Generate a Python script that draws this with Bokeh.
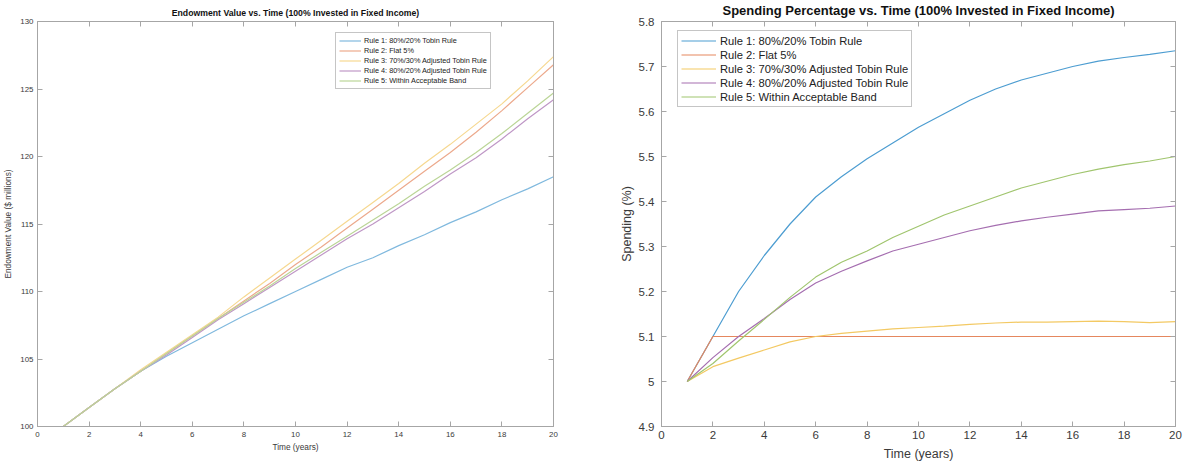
from bokeh.plotting import figure
from bokeh.layouts import row
from bokeh.models import (Range1d, LinearAxis, Legend, LegendItem, FixedTicker,
                          CustomLabelingPolicy)
from bokeh.embed import file_html
from bokeh.resources import INLINE

years = list(range(1, 21))
rule_names = [
    "Rule 1: 80%/20% Tobin Rule",
    "Rule 2: Flat 5%",
    "Rule 3: 70%/30% Adjusted Tobin Rule",
    "Rule 4: 80%/20% Adjusted Tobin Rule",
    "Rule 5: Within Acceptable Band",
]
# MATLAB default colour order, lightened as they appear in the two panels
colors_left = ["#80B9DE", "#ECA98C", "#F6D890", "#BF97C6", "#BBD597"]
colors_right = ["#4D9DD1", "#E5875E", "#F3C963", "#A56EB0", "#A0C56E"]

# Endowment value ($ millions)
endow_rule1 = [100, 101.4, 102.8, 104.1, 105.2, 106.2, 107.2, 108.2, 109.1, 110.0,
               110.9, 111.8, 112.5, 113.4, 114.2, 115.1, 115.9, 116.8, 117.6, 118.5]
endow_rule2 = [100, 101.4, 102.8, 104.1, 105.4, 106.7, 108.0, 109.3, 110.6, 112.0,
               113.3, 114.7, 116.1, 117.5, 118.9, 120.3, 121.8, 123.4, 125.1, 126.8]
endow_rule3 = [100, 101.4, 102.8, 104.2, 105.5, 106.8, 108.1, 109.6, 111.0, 112.4,
               113.8, 115.2, 116.6, 118.0, 119.5, 120.9, 122.4, 123.9, 125.6, 127.4]
endow_rule4 = [100, 101.4, 102.8, 104.1, 105.3, 106.6, 107.9, 109.1, 110.3, 111.5,
               112.7, 113.9, 115.0, 116.2, 117.4, 118.7, 119.9, 121.3, 122.8, 124.2]
endow_rule5 = [100, 101.4, 102.8, 104.1, 105.4, 106.7, 108.0, 109.2, 110.4, 111.7,
               112.9, 114.1, 115.3, 116.5, 117.8, 119.0, 120.3, 121.7, 123.2, 124.7]

# Spending percentage (%)
spend_rule1 = [5.0, 5.1, 5.2, 5.28, 5.35, 5.41, 5.455, 5.495, 5.53, 5.565,
               5.595, 5.625, 5.65, 5.67, 5.685, 5.70, 5.712, 5.72, 5.727, 5.735]
spend_rule2 = [5.0, 5.1, 5.1, 5.1, 5.1, 5.1, 5.1, 5.1, 5.1, 5.1,
               5.1, 5.1, 5.1, 5.1, 5.1, 5.1, 5.1, 5.1, 5.1, 5.1]
spend_rule3 = [5.0, 5.033, 5.052, 5.07, 5.088, 5.10, 5.107, 5.112, 5.117, 5.12,
               5.123, 5.127, 5.13, 5.132, 5.132, 5.133, 5.134, 5.133, 5.131, 5.133]
spend_rule4 = [5.0, 5.053, 5.1, 5.14, 5.182, 5.219, 5.245, 5.268, 5.29, 5.305,
               5.32, 5.335, 5.347, 5.357, 5.365, 5.372, 5.379, 5.382, 5.385, 5.39]
spend_rule5 = [5.0, 5.04, 5.09, 5.138, 5.187, 5.232, 5.265, 5.29, 5.32, 5.345,
               5.37, 5.39, 5.41, 5.43, 5.445, 5.46, 5.472, 5.482, 5.49, 5.50]

x_ticks = list(range(0, 21, 2))
endow_ticks = [100, 105, 110, 115, 120, 125, 130]
spend_ticks = [4.9, 5.0, 5.1, 5.2, 5.3, 5.4, 5.5, 5.6, 5.7, 5.8]
spend_tick_labels = {4.9: "4.9", 5.0: "5", 5.1: "5.1", 5.2: "5.2", 5.3: "5.3",
                     5.4: "5.4", 5.5: "5.5", 5.6: "5.6", 5.7: "5.7", 5.8: "5.8"}

FONT = "Liberation Sans"
AXIS_COL = "#a6a6a6"
TEXT_COL = "#3a3a3a"

NO_LABELS = "for (const i of indices) { if (i < 0) { yield i } }"


def make_fig(width, height, borders, yr, yticks, title, ylabel, series, colors,
             tick_fs, label_fs, title_fs, legend_cfg, ylabels=None,
             x_stand=(4, 2), y_stand=(4, 3)):
    p = figure(width=width, height=height, output_backend="svg", toolbar_location=None,
               x_range=Range1d(0, 20), y_range=Range1d(*yr),
               min_border_left=borders[0], min_border_right=borders[1],
               min_border_top=borders[2], min_border_bottom=borders[3])
    p.title.text = title
    p.title.text_font = FONT
    p.title.text_font_size = title_fs
    p.title.text_font_style = "bold"
    p.title.text_color = "#111111"
    p.title.align = "center"
    p.title.standoff = 0
    p.title.offset = 0
    p.xgrid.visible = False
    p.ygrid.visible = False
    p.outline_line_color = AXIS_COL
    p.background_fill_color = "white"
    p.border_fill_color = "white"

    for ax, ticks, st in ((p.xaxis[0], x_ticks, x_stand), (p.yaxis[0], yticks, y_stand)):
        ax.ticker = FixedTicker(ticks=ticks)
        ax.minor_tick_line_color = None
        ax.major_tick_in = 5
        ax.major_tick_out = 0
        ax.axis_line_color = AXIS_COL
        ax.major_tick_line_color = AXIS_COL
        ax.major_label_text_font = FONT
        ax.major_label_text_font_size = tick_fs
        ax.major_label_text_color = TEXT_COL
        ax.axis_label_text_font = FONT
        ax.axis_label_text_font_size = label_fs
        ax.axis_label_text_font_style = "normal"
        ax.axis_label_text_color = TEXT_COL
        ax.major_label_standoff = st[0]
        ax.axis_label_standoff = st[1]
    p.xaxis[0].axis_label = "Time (years)"
    p.yaxis[0].axis_label = ylabel
    if ylabels is not None:
        p.yaxis[0].major_label_overrides = ylabels

    for loc, ticks in (("above", x_ticks), ("right", yticks)):
        ax = LinearAxis(ticker=FixedTicker(ticks=ticks))
        ax.major_label_policy = CustomLabelingPolicy(code=NO_LABELS)
        ax.major_label_text_font_size = "1px"
        ax.major_label_standoff = 0
        ax.minor_tick_line_color = None
        ax.major_tick_in = 5
        ax.major_tick_out = 0
        ax.axis_line_color = AXIS_COL
        ax.major_tick_line_color = AXIS_COL
        p.add_layout(ax, loc)

    items = []
    for name, col, vals in zip(rule_names, colors, series):
        r = p.line(years, vals, line_color=col, line_width=1.2)
        items.append(LegendItem(label=name, renderers=[r]))

    leg = Legend(items=items, location=legend_cfg["loc"])
    leg.label_text_font = FONT
    leg.label_text_font_size = legend_cfg["fs"]
    leg.label_text_color = "#222222"
    leg.glyph_width = legend_cfg["gw"]
    leg.glyph_height = legend_cfg["gh"]
    leg.label_height = legend_cfg["gh"]
    leg.label_standoff = legend_cfg["so"]
    leg.spacing = legend_cfg["sp"]
    leg.padding = legend_cfg["pad"]
    leg.margin = 0
    leg.border_line_color = "#8c8c8c"
    leg.border_line_width = 1
    leg.background_fill_color = "white"
    leg.background_fill_alpha = 1.0
    p.add_layout(leg, "center")
    return p


p1 = make_fig(608, 465, (36, 55, 20, 39), (100, 130), endow_ticks,
              "Endowment Value vs. Time (100% Invested in Fixed Income)",
              "Endowment Value ($ millions)",
              [endow_rule1, endow_rule2, endow_rule3, endow_rule4, endow_rule5],
              colors_left, "7.9px", "8.3px", "8.7px",
              dict(loc=(298, 337), fs="7.3px", gw=22, gh=9, so=3, sp=1, pad=3),
              x_stand=(5, 2), y_stand=(4, 4))

p2 = make_fig(578, 465, (53, 11, 20, 38), (4.9, 5.8), spend_ticks,
              "Spending Percentage vs. Time (100% Invested in Fixed Income)",
              "Spending (%)",
              [spend_rule1, spend_rule2, spend_rule3, spend_rule4, spend_rule5],
              colors_right, "11.5px", "12.5px", "13px",
              dict(loc=(16, 319), fs="11.2px", gw=35, gh=13, so=4, sp=1, pad=3),
              ylabels=spend_tick_labels, x_stand=(4, 5), y_stand=(7, 2))

layout = row(p1, p2)
open("out.html", "w").write(file_html(layout, INLINE))
